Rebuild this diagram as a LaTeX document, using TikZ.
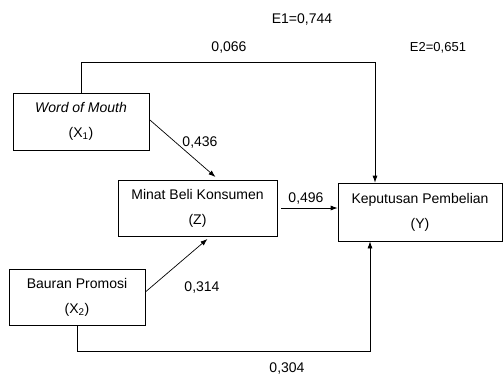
\documentclass[tikz,border=0pt]{standalone}
\usepackage{fontspec}
\setmainfont{Liberation Sans}
\usepackage{tikz}
\usetikzlibrary{arrows.meta}

\tikzset{
  box/.style={draw, line width=0.7pt, minimum height=#1, align=center,
    font=\fontsize{14}{25}\selectfont, inner sep=0pt},
  box/.default=56pt,
  link/.style={line width=0.7pt, -{Latex[length=7pt,width=5pt]}},
  coef/.style={font=\fontsize{14}{16}\selectfont, inner sep=0pt}
}

\begin{document}
\begin{tikzpicture}[x=1pt,y=-1pt]
\useasboundingbox (0,0) rectangle (503,376);
\node[box=57pt, minimum width=136pt] (wom) at (81,121.5) {\textit{Word of Mouth}\\(X\textsubscript{1})};
\node[box, minimum width=159pt] (minat) at (197.5,208) {Minat Beli Konsumen\\(Z)};
\node[box=58pt, minimum width=164pt] (kep) at (420,212) {Keputusan Pembelian\\(Y)};
\node[box, minimum width=136pt] (bauran) at (77,297) {Bauran Promosi\\(X\textsubscript{2})};

\coordinate (top) at (375,62);
\coordinate (bot) at (370,351);

\draw[link] (wom.north) |- (top) -- (top |- kep.north);
\draw[link] (bauran.south) |- (bot) -- (bot |- kep.south);
\draw[link, shorten >=4pt] ([yshift=2pt]wom.east) -- ([xshift=21pt]minat.north);
\draw[link, shorten >=4pt] ([yshift=5pt]bauran.east) -- ([xshift=13pt]minat.south);
\draw[link, shorten <=4pt] (minat.east) -- (minat.east -| kep.west);

\node[coef] (e1) at (302,20) {E1=0,744};
\node[coef, font=\fontsize{13}{15}\selectfont] (e2) at (438,48) {E2=0,651};
\node[coef] (c1) at (229,48) {0,066};
\node[coef] (c2) at (200,143) {0,436};
\node[coef] (c3) at (306,199) {0,496};
\node[coef] (c4) at (202,287) {0,314};
\node[coef] (c5) at (287,368) {0,304};
\end{tikzpicture}
\end{document}
